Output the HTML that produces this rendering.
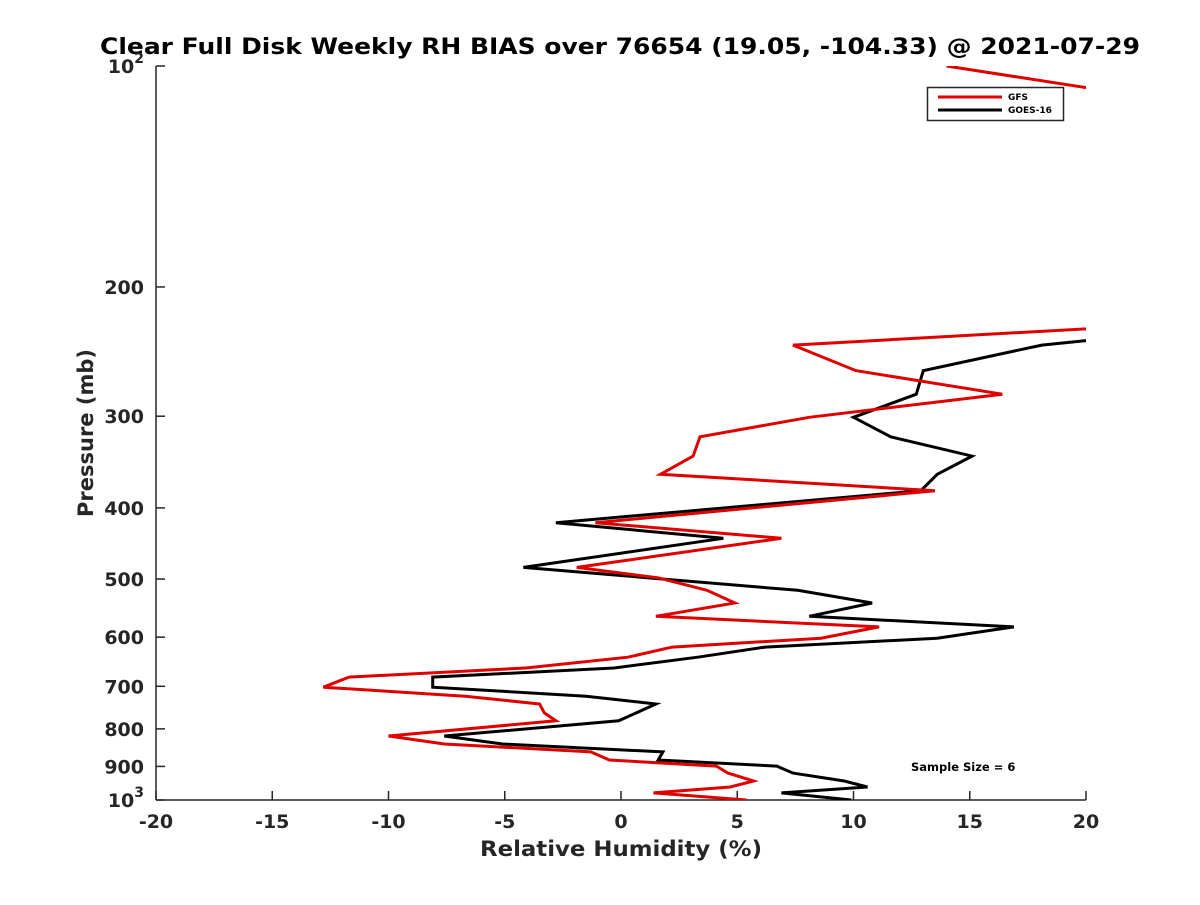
<!DOCTYPE html>
<html><head><meta charset="utf-8"><style>
body{margin:0;background:#fff;}
svg text{font-family:"DejaVu Sans","Liberation Sans",sans-serif;font-weight:bold;fill:#262626;}
</style></head><body>
<svg id="chart" width="1200" height="900" xmlns="http://www.w3.org/2000/svg">
<rect width="1200" height="900" fill="#fff"/>
<defs><clipPath id="plotclip"><rect x="156" y="66" width="930" height="734"/></clipPath></defs>
<text x="620" y="54" text-anchor="middle" font-size="22.5" style="fill:#000" textLength="1040" lengthAdjust="spacingAndGlyphs">Clear Full Disk Weekly RH BIAS over 76654 (19.05, -104.33) @ 2021-07-29</text>
<g id="axes"></g>
<g id="series" clip-path="url(#plotclip)"></g>
<text x="621" y="856" text-anchor="middle" font-size="21" textLength="282" lengthAdjust="spacingAndGlyphs">Relative Humidity (%)</text>
<text transform="translate(93,433) rotate(-90)" text-anchor="middle" font-size="21">Pressure (mb)</text>
<g>
<rect x="927.5" y="87.5" width="136" height="33" fill="#fff" stroke="#262626" stroke-width="1.5"/>
<line x1="938" y1="97" x2="1002" y2="97" stroke="#e00000" stroke-width="3"/>
<line x1="938" y1="110" x2="1002" y2="110" stroke="#000" stroke-width="3"/>
<text x="1008" y="100" font-size="9" style="fill:#000">GFS</text>
<text x="1008" y="113" font-size="9" style="fill:#000">GOES-16</text>
</g>
<text x="911" y="771" font-size="11.5" style="fill:#000">Sample Size = 6</text>
</svg>
<script>
const xTicks=[-20,-15,-10,-5,0,5,10,15,20];
const yTicks=[100,200,300,400,500,600,700,800,900,1000];
const gfsRH=[14,24,30,7.4,10.1,16.4,8.1,3.4,3.1,1.7,13.5,-1.1,6.9,-1.9,1.6,3.7,4.9,1.5,11.1,8.6,2.2,0.3,-4.1,-11.7,-12.8,-6.7,-3.5,-3.3,-2.8,-10.0,-7.6,-1.3,-0.5,4.1,4.6,5.7,4.7,1.4,5.4];
const gfsP=[100,112,219,240,260,280,301,320,340,360,379,419,440,482,498,518,539,562,581,602,619,639,661,680,702,722,740,761,780,818,839,860,882,899,919,942,960,978,1000];
const goesRH=[25,18.1,13.0,12.7,10.0,11.6,15.1,13.6,12.9,-2.8,4.4,-4.2,7.6,10.8,8.1,16.9,13.6,6.2,3.3,-0.3,-8.1,-8.1,-1.5,1.5,-0.1,-7.6,-5.1,1.8,1.6,6.7,7.4,9.6,10.6,6.9,9.9];
const goesP=[228,240,260,280,301,320,340,360,379,419,440,482,518,539,562,581,602,619,639,661,680,702,722,740,780,818,839,860,882,899,919,942,960,978,1000];
const X0=156,X1=1086,Y0=66,Y1=800;
const xs=v=>X0+(v+20)/40*(X1-X0);
const ys=p=>Y0+(Math.log10(p)-2)*(Y1-Y0);
const NS='http://www.w3.org/2000/svg';
const axes=document.getElementById('axes'),series=document.getElementById('series');
function mk(tag,at,par){const e=document.createElementNS(NS,tag);for(const k in at)e.setAttribute(k,at[k]);par.appendChild(e);return e;}
const yl=mk('line',{x1:X0,y1:Y0,x2:X0,y2:Y1,stroke:'#262626','stroke-width':1.5},axes);


const xl=mk('line',{x1:X0,y1:Y1,x2:X1,y2:Y1,stroke:'#262626','stroke-width':1.5},axes);


xTicks.forEach(v=>{
  const x=xs(v);
  mk('line',{x1:x,y1:Y1,x2:x,y2:Y1-9,stroke:'#262626','stroke-width':1.5},axes);
  const t=mk('text',{x:x,y:828,'text-anchor':'middle','font-size':19},axes);
  t.textContent=v;
  
  
});
yTicks.forEach(p=>{
  const y=ys(p);
  mk('line',{x1:X0,y1:y,x2:X0+9,y2:y,stroke:'#262626','stroke-width':1.5},axes);
  const t=mk('text',{x:X0-12,y:y+7,'text-anchor':'end','font-size':19},axes);
  if(p===100||p===1000){t.textContent='10';const s=mk('tspan',{dy:-10,'font-size':14},t);s.textContent=p===100?'2':'3';}
  else t.textContent=p;
  
  
});
function draw(vals,ps,color,name){
  const pts=vals.map((v,i)=>xs(v).toFixed(1)+','+ys(ps[i]).toFixed(1)).join(' ');
  const pl=mk('polyline',{points:pts,fill:'none',stroke:color,'stroke-width':3,'stroke-linejoin':'miter'},series);
  
  
}
draw(goesRH,goesP,'#000','goes16-line');
draw(gfsRH,gfsP,'#e00000','gfs-line');
</script>
</body></html>
